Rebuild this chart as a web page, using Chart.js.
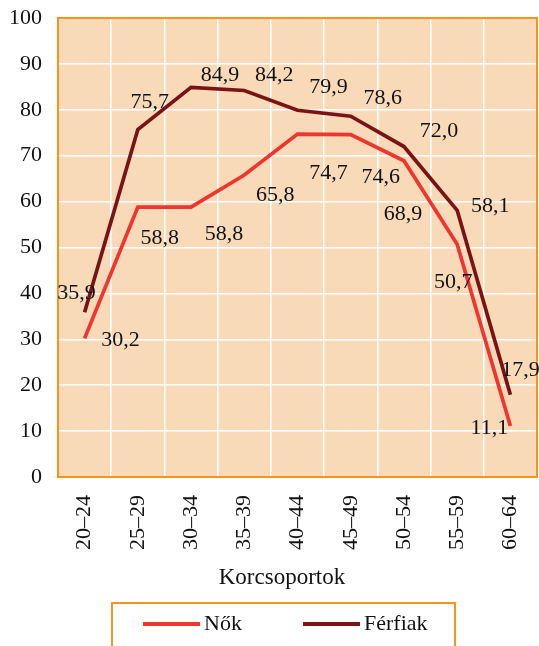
<!DOCTYPE html>
<html>
<head>
<meta charset="utf-8">
<script src="https://cdn.jsdelivr.net/npm/chart.js@4.4.1/dist/chart.umd.min.js"></script>
<style>
  html, body { margin: 0; padding: 0; background: #fff; }
  #wrap { width: 539px; height: 646px; }
</style>
</head>
<body>
<div id="wrap"><canvas id="graph" width="539" height="646"></canvas></div>
<script>
// categories and values
var korcsoportok = ['20–24', '25–29', '30–34', '35–39', '40–44', '45–49', '50–54', '55–59', '60–64'];
var nokValues = [30.2, 58.8, 58.8, 65.8, 74.7, 74.6, 68.9, 50.7, 11.1];
var ferfiValues = [35.9, 75.7, 84.9, 84.2, 79.9, 78.6, 72.0, 58.1, 17.9];
var yTicks = [0, 10, 20, 30, 40, 50, 60, 70, 80, 90, 100];
var xTitle = 'Korcsoportok';

// where each value label sits, relative to its point (px)
var nokLabelOffset = [[36, 2], [22, 31], [33, 27], [31, 20], [31, 39], [30, 43], [-1, 53], [-4, 38], [-21, 2]];
var ferfiLabelOffset = [[-8, -19], [12, -27], [29, -12], [30, -15], [31, -23], [32, -18], [35, -15], [33, -4], [10, -25]];

var colorNok = '#EE3530';
var colorFerfi = '#7A1414';
var colorBg = '#F9DAB8';
var colorBorder = '#F7941E';
var fontFamily = '"Liberation Serif", "Times New Roman", serif';

function fmt(v) {
  return v.toFixed(1).replace('.', ',');
}

var plotFrame = {
  id: 'plotFrame',
  beforeDraw: function(chart) {
    var a = chart.chartArea;
    var c = chart.ctx;
    c.save();
    c.fillStyle = colorBg;
    c.fillRect(a.left, a.top, a.right - a.left, a.bottom - a.top);
    c.restore();
  },
  beforeDatasetsDraw: function(chart) {
    var a = chart.chartArea;
    var c = chart.ctx;
    c.save();
    c.strokeStyle = colorBorder;
    c.lineWidth = 2;
    c.strokeRect(a.left, a.top, a.right - a.left, a.bottom - a.top);
    c.restore();
  }
};

var valueLabels = {
  id: 'valueLabels',
  afterDatasetsDraw: function(chart) {
    var c = chart.ctx;
    var offsets = [nokLabelOffset, ferfiLabelOffset];
    c.save();
    c.font = '22px ' + fontFamily;
    c.fillStyle = '#111';
    c.textAlign = 'center';
    c.textBaseline = 'middle';
    chart.data.datasets.forEach(function(ds, di) {
      var meta = chart.getDatasetMeta(di);
      meta.data.forEach(function(pt, i) {
        var off = offsets[di][i];
        c.fillText(fmt(ds.data[i]), pt.x + off[0], pt.y + off[1]);
      });
    });
    c.restore();
  }
};

// axis title sits a little left of the plot centre, legend in an orange box
var boxLegend = {
  id: 'boxLegend',
  afterDraw: function(chart) {
    var c = chart.ctx;
    c.save();
    c.font = '23px ' + fontFamily;
    c.fillStyle = '#111';
    c.textAlign = 'center';
    c.textBaseline = 'middle';
    c.fillText(xTitle, 282, 578);

    c.strokeStyle = colorBorder;
    c.lineWidth = 2;
    c.strokeRect(112, 603, 343, 60);
    c.font = '22px ' + fontFamily;
    c.textAlign = 'left';
    var items = [[143, 624], [303, 624]];
    chart.data.datasets.forEach(function(ds, di) {
      var x = items[di][0], y = items[di][1];
      c.strokeStyle = ds.borderColor;
      c.lineWidth = 4;
      c.beginPath();
      c.moveTo(x, y);
      c.lineTo(x + 57, y);
      c.stroke();
      c.fillStyle = '#111';
      c.fillText(ds.label, x + 61, y);
    });
    c.restore();
  }
};

new Chart(document.getElementById('graph'), {
  type: 'line',
  plugins: [plotFrame, valueLabels, boxLegend],
  data: {
    labels: korcsoportok,
    datasets: [
      {
        label: 'Nők',
        data: nokValues,
        borderColor: colorNok,
        backgroundColor: colorNok,
        borderWidth: 3.7,
        pointRadius: 0,
        tension: 0
      },
      {
        label: 'Férfiak',
        data: ferfiValues,
        borderColor: colorFerfi,
        backgroundColor: colorFerfi,
        borderWidth: 3.7,
        pointRadius: 0,
        tension: 0
      }
    ]
  },
  options: {
    responsive: false,
    animation: false,
    layout: {
      padding: { top: 18, right: 2, bottom: 57, left: 0 }
    },
    scales: {
      x: {
        offset: true,
        grid: {
          offset: true,
          color: '#ffffff',
          lineWidth: 1.5,
          drawTicks: false
        },
        border: { display: false },
        ticks: {
          color: '#111',
          font: { family: fontFamily, size: 22 },
          padding: 18,
          minRotation: 90,
          maxRotation: 90,
          autoSkip: false
        },
        title: { display: false },
        afterFit: function(scale) {
          scale.height = 112;
          scale.paddingLeft = 0;
          scale.paddingRight = 0;
        }
      },
      y: {
        min: 0,
        max: 100,
        grid: {
          color: '#ffffff',
          lineWidth: 1.5,
          drawTicks: false
        },
        border: { display: false },
        afterBuildTicks: function(scale) {
          scale.ticks = yTicks.map(function(v) { return { value: v }; });
        },
        ticks: {
          color: '#111',
          font: { family: fontFamily, size: 22 },
          padding: 16
        },
        afterFit: function(scale) {
          scale.width = 58;
          scale.paddingTop = 0;
          scale.paddingBottom = 0;
        }
      }
    },
    plugins: {
      legend: { display: false },
      tooltip: { enabled: false }
    }
  }
});
</script>
</body>
</html>
